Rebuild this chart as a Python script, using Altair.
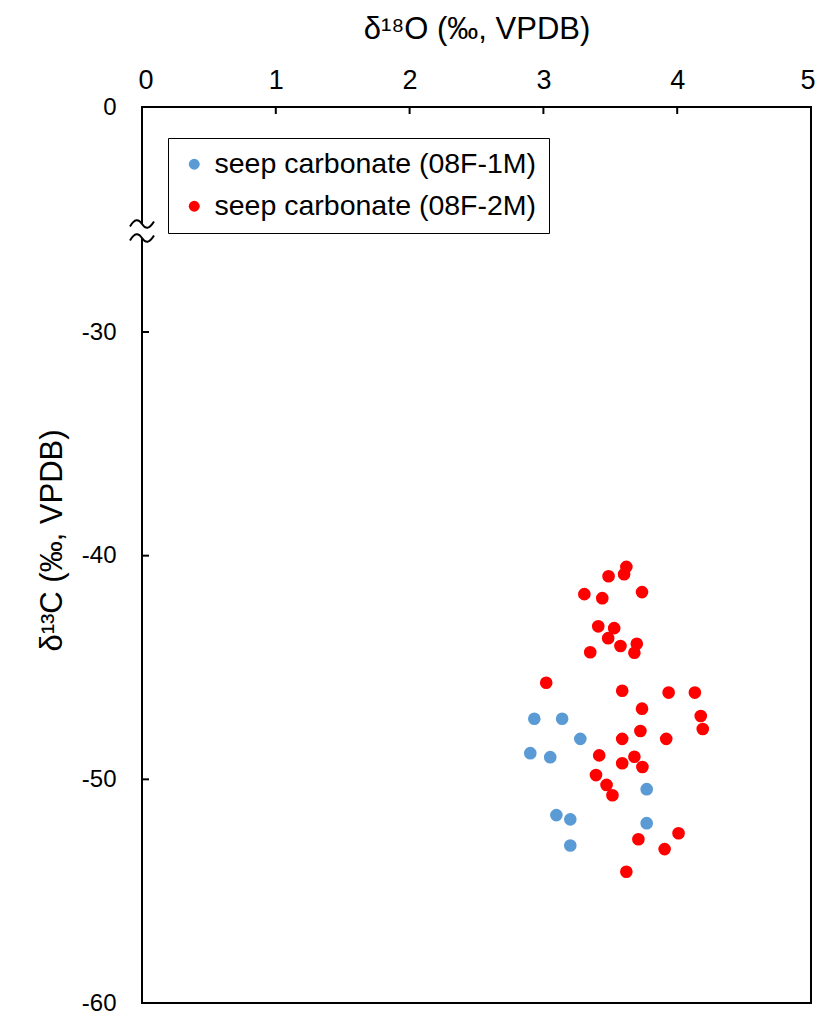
import altair as alt
import pandas as pd

# ---- data ----
label_1m = "seep carbonate (08F-1M)"
label_2m = "seep carbonate (08F-2M)"

x_1m = [2.932, 3.140, 3.276, 2.902, 3.051, 3.772, 3.097, 3.201, 3.772, 3.201]
y_1m = [-47.29, -47.29, -48.19, -48.83, -49.01, -50.44, -51.60, -51.79, -51.96, -52.96]

x_2m = [3.620, 3.603, 3.487, 3.306, 3.440, 3.737, 3.410, 3.529, 3.484, 3.576,
        3.698, 3.680, 3.350, 3.021, 3.589, 3.936, 4.132, 3.737, 4.176, 4.191,
        3.725, 3.589, 3.918, 3.417, 3.680, 3.589, 3.740, 3.393, 3.472, 3.516,
        3.710, 4.010, 3.906, 3.620]
y_2m = [-40.50, -40.83, -40.92, -41.72, -41.90, -41.63, -43.16, -43.24, -43.69, -44.04,
        -43.94, -44.34, -44.32, -45.68, -46.04, -46.12, -46.12, -46.84, -47.17, -47.75,
        -47.84, -48.19, -48.19, -48.93, -48.99, -49.28, -49.45, -49.81, -50.25, -50.71,
        -52.68, -52.41, -53.12, -54.13]

x_ticks = [0, 1, 2, 3, 4, 5]
y_ticks = [0, -30, -40, -50, -60]
x_inner_ticks = [1, 2, 3, 4]
y_inner_ticks = [-30, -40, -50]

colors = ["#5B9BD5", "#FF0000"]

# ---- build table ----
df = pd.concat([
    pd.DataFrame({"x": x_1m, "y": y_1m, "series": label_1m}),
    pd.DataFrame({"x": x_2m, "y": y_2m, "series": label_2m}),
], ignore_index=True)

W, H = 669, 896
FONT = "Liberation Sans"

xscale = alt.Scale(domain=[0, 5], nice=False, zero=False)
yscale = alt.Scale(domain=[-60, -30, 0], range=[H, 225, 0], nice=False, zero=False)

xaxis = alt.Axis(orient="top", values=x_ticks, format="d", ticks=False, domain=False,
                 grid=False, labelFontSize=27, labelPadding=13,
                 labelFlush=True, labelFlushOffset=4,
                 labelColor="black", labelFont=FONT,
                 title="δ¹⁸O (‰, VPDB)", titleFontSize=31, titleFontWeight="normal",
                 titleFont=FONT, titleColor="black",
                 titleX=W / 2, titleY=-69, titleBaseline="alphabetic",
                 titleAlign="center")
yaxis = alt.Axis(orient="left", values=y_ticks, ticks=False, domain=False, grid=False,
                 labelExpr="datum.value < 0 ? '-' + abs(datum.value) : '' + datum.value",
                 labelFontSize=24, labelPadding=26, labelFlush=False,
                 labelColor="black", labelFont=FONT,
                 title="δ¹³C (‰, VPDB)", titleFontSize=31, titleFontWeight="normal",
                 titleFont=FONT, titleColor="black", titleAngle=270,
                 titleX=-81, titleY=433, titleBaseline="alphabetic",
                 titleAlign="center")

points = alt.Chart(df).mark_circle(size=160, opacity=1).encode(
    x=alt.X("x:Q", scale=xscale, axis=xaxis),
    y=alt.Y("y:Q", scale=yscale, axis=yaxis),
    color=alt.Color("series:N",
                    scale=alt.Scale(domain=[label_1m, label_2m], range=colors),
                    legend=alt.Legend(title=None, orient="none", legendX=26, legendY=31,
                                      fillColor="white", strokeColor="black", padding=12,
                                      rowPadding=13, symbolSize=120, symbolType="circle",
                                      symbolStrokeWidth=0, symbolOffset=0, labelOffset=6,
                                      labelFontSize=28.5, labelFont=FONT, labelColor="black",
                                      labelLimit=0)),
)

xt = alt.Chart(pd.DataFrame({"x": x_inner_ticks})).mark_rule(color="black", strokeWidth=2).encode(
    x=alt.X("x:Q", scale=xscale, axis=xaxis),
    y=alt.value(0), y2=alt.value(7),
)
yt = alt.Chart(pd.DataFrame({"y": y_inner_ticks})).mark_rule(color="black", strokeWidth=2).encode(
    y=alt.Y("y:Q", scale=yscale, axis=yaxis),
    x=alt.value(0), x2=alt.value(7),
)

one = pd.DataFrame({"k": [0]})
gap = alt.Chart(one).mark_rect(color="white").encode(
    x=alt.value(-5), x2=alt.value(5), y=alt.value(117), y2=alt.value(131)
)
tilde_path = "M -1 0.2 C -0.6 -0.45, -0.3 -0.45, 0 0 C 0.3 0.45, 0.6 0.45, 1 -0.2"
tilde1 = alt.Chart(one).mark_point(shape=tilde_path, filled=False, color="black",
                                   strokeWidth=2, size=576, opacity=1).encode(
    x=alt.value(0), y=alt.value(117))
tilde2 = alt.Chart(one).mark_point(shape=tilde_path, filled=False, color="black",
                                   strokeWidth=2, size=576, opacity=1).encode(
    x=alt.value(0), y=alt.value(131))

chart = alt.layer(points, xt, yt, gap, tilde1, tilde2).properties(
    width=W, height=H,
    autosize=alt.AutoSizeParams(type="none"),
    padding={"left": 134, "top": 99, "right": 4, "bottom": 12},
).configure_view(stroke="black", strokeWidth=2)

chart.save("out.html", embed_options={"renderer": "svg", "actions": False})
